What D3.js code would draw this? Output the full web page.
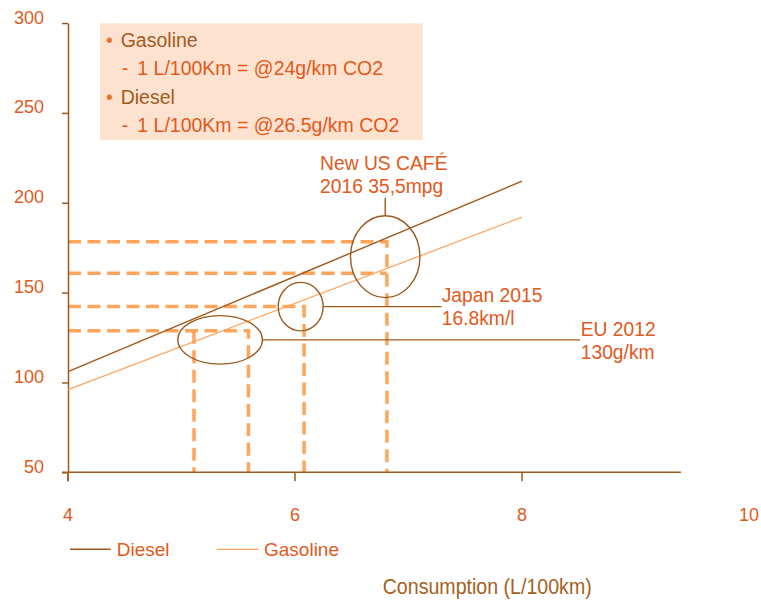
<!DOCTYPE html>
<html><head><meta charset="utf-8">
<script src="https://cdn.jsdelivr.net/npm/d3@7"></script>
<style>
body{margin:0;background:#fff;}
svg{display:block;font-family:"Liberation Sans",Arial,sans-serif;}
</style></head>
<body><svg id="c" width="761" height="600"></svg>
<script>
// ---- data ----
const consumption = [4, 8];
const diesel = [106, 212];
const gasoline = [96, 192];
const yTicks = [50, 100, 150, 200, 250, 300];
const xTickLabels = [4, 6, 8, 10];
const xTickMarks = [4, 6, 8];
// target reference values (L/100km, g/km)
const euX = [5.11, 5.59], euY = 128.8;
const jpX = 6.08, jpY = 142.2;
const usX = 6.81, usY = [178.3, 160.7];
// annotation ellipses: [cx, cy, rx(L/100km), ry(g/km)]
const ellEU = [5.34, 123.7, 0.373, 13.5];
const ellJP = [6.05, 142.2, 0.198, 13.5];
const ellUS = [6.795, 170, 0.306, 22.8];
const labelsEU = ["EU 2012", "130g/km"];
const labelsJP = ["Japan 2015", "16.8km/l"];
const labelsUS = ["New US CAFÉ", "2016 35,5mpg"];
const boxLines = [["Gasoline", "1 L/100Km = @24g/km CO2"], ["Diesel", "1 L/100Km = @26.5g/km CO2"]];
const seriesNames = ["Diesel", "Gasoline"];
const axisTitle = "Consumption (L/100km)";

// ---- styles ----
const ORANGE = "#e2591b", BROWN = "#a0591c", LIGHT = "#ffa55c", BOXFILL = "#fde3cf";

const svg = d3.select("#c");
const x = d3.scaleLinear().domain([4, 10]).range([68, 749]);
const y = d3.scaleLinear().domain([50, 300]).range([472.3, 23.05]);

// legend box
svg.append("rect").attr("x", 100).attr("y", 23.3).attr("width", 322.7).attr("height", 116.7).attr("fill", BOXFILL);
boxLines.forEach((b, i) => {
  const by = 46.7 + i * 57.3;
  svg.append("text").attr("x", 106).attr("y", by).attr("fill", "#e8702e").attr("font-size", 19.5).text("•");
  svg.append("text").attr("x", 120.7).attr("y", by).attr("fill", "#a3591f").attr("font-size", 19.5).text(b[0]);
  svg.append("text").attr("x", 121.7).attr("y", by + 28.3).attr("fill", ORANGE).attr("font-size", 19.5).text("-");
  svg.append("text").attr("x", 137.3).attr("y", by + 28.3).attr("fill", ORANGE).attr("font-size", 19.5).text(b[1]);
});

// dashed reference lines
const dash = d3.line().x(d => x(d[0])).y(d => y(d[1]));
const dashed = [
  [[4, euY], [euX[1], euY], [euX[1], 50]],
  [[euX[0], euY], [euX[0], 50]],
  [[4, jpY], [jpX, jpY], [jpX, 50]],
  [[4, usY[0]], [usX, usY[0]], [usX, 50]],
  [[4, usY[1]], [usX, usY[1]]]
];
svg.selectAll(".dash").data(dashed).enter().append("path")
  .attr("d", dash).attr("fill", "none").attr("stroke", LIGHT)
  .attr("stroke-width", 3.5).attr("stroke-dasharray", "13,6.5");

// axes
const yAxis = svg.append("g").attr("transform", `translate(${x(4)},0)`)
  .call(d3.axisLeft(y).tickValues(yTicks).tickSize(6).tickSizeOuter(0).tickPadding(18));
yAxis.select(".domain").attr("stroke", BROWN).attr("stroke-width", 1.5);
yAxis.selectAll(".tick line").attr("stroke", BROWN).attr("stroke-width", 1.5);
yAxis.selectAll(".tick text").attr("fill", ORANGE).attr("font-size", 18).attr("dy", 0)
  .attr("font-family", "Liberation Sans, Arial, sans-serif");

// y axis extends below x axis
svg.append("line").attr("x1", x(4)).attr("x2", x(4)).attr("y1", y(50)).attr("y2", y(50) + 9)
  .attr("stroke", BROWN).attr("stroke-width", 1.5);
svg.append("line").attr("x1", x(4) - 6).attr("x2", x(9.4)).attr("y1", y(50)).attr("y2", y(50))
  .attr("stroke", BROWN).attr("stroke-width", 1.5);
svg.selectAll(".xt").data(xTickMarks).enter().append("line")
  .attr("x1", d => x(d)).attr("x2", d => x(d)).attr("y1", y(50)).attr("y2", y(50) + 9)
  .attr("stroke", BROWN).attr("stroke-width", 1.5);
svg.selectAll(".xl").data(xTickLabels).enter().append("text")
  .attr("x", d => x(d)).attr("y", y(50) + 48.4).attr("text-anchor", "middle")
  .attr("fill", ORANGE).attr("font-size", 18).text(d => d);

// series lines
const pts = s => consumption.map((c, i) => [c, s[i]]);
svg.append("path").attr("d", dash(pts(gasoline))).attr("fill", "none").attr("stroke", "#ffa25a").attr("stroke-width", 1.2);
svg.append("path").attr("d", dash(pts(diesel))).attr("fill", "none").attr("stroke", BROWN).attr("stroke-width", 1.4);

// ellipses & connectors
function ell(e) {
  svg.append("ellipse").attr("cx", x(e[0])).attr("cy", y(e[1]))
    .attr("rx", x(4 + e[2]) - x(4)).attr("ry", y(50) - y(50 + e[3]))
    .attr("fill", "none").attr("stroke", "#9a5a1e").attr("stroke-width", 1.4);
}
ell(ellEU); ell(ellJP); ell(ellUS);
// EU connector
svg.append("line").attr("x1", x(ellEU[0] + ellEU[2])).attr("x2", 580).attr("y1", y(ellEU[1])).attr("y2", y(ellEU[1]))
  .attr("stroke", "#a0591c").attr("stroke-width", 1.4);
// Japan connector
svg.append("line").attr("x1", x(ellJP[0] + ellJP[2])).attr("x2", 441.5).attr("y1", y(ellJP[1])).attr("y2", y(ellJP[1]))
  .attr("stroke", "#a0591c").attr("stroke-width", 1.4);
// US connector
svg.append("line").attr("x1", x(ellUS[0])).attr("x2", x(ellUS[0])).attr("y1", y(ellUS[1] + ellUS[3])).attr("y2", 197.7)
  .attr("stroke", "#a0591c").attr("stroke-width", 1.4);

function label(lines, lx, ly) {
  lines.forEach((t, i) => svg.append("text").attr("x", lx).attr("y", ly + i * 23.2)
    .attr("fill", ORANGE).attr("font-size", 19.3).text(t));
}
label(labelsUS, 320, 170);
label(labelsJP, 441.7, 301.7);
label(labelsEU, 580.7, 335.7);

// bottom legend
svg.append("line").attr("x1", 70).attr("x2", 110.7).attr("y1", 549.3).attr("y2", 549.3).attr("stroke", BROWN).attr("stroke-width", 1.5);
svg.append("text").attr("x", 116.7).attr("y", 555.5).attr("fill", ORANGE).attr("font-size", 19).text(seriesNames[0]);
svg.append("line").attr("x1", 216.7).attr("x2", 258.3).attr("y1", 549.3).attr("y2", 549.3).attr("stroke", "#ffa25a").attr("stroke-width", 1.2);
svg.append("text").attr("x", 264).attr("y", 555.5).attr("fill", ORANGE).attr("font-size", 19).text(seriesNames[1]);

// axis title (slightly condensed look)
svg.append("text").attr("transform", "translate(382.7,594) scale(1,1.1)")
  .attr("fill", "#a5611e").attr("font-size", 19.6).text(axisTitle);
</script>
</body></html>
